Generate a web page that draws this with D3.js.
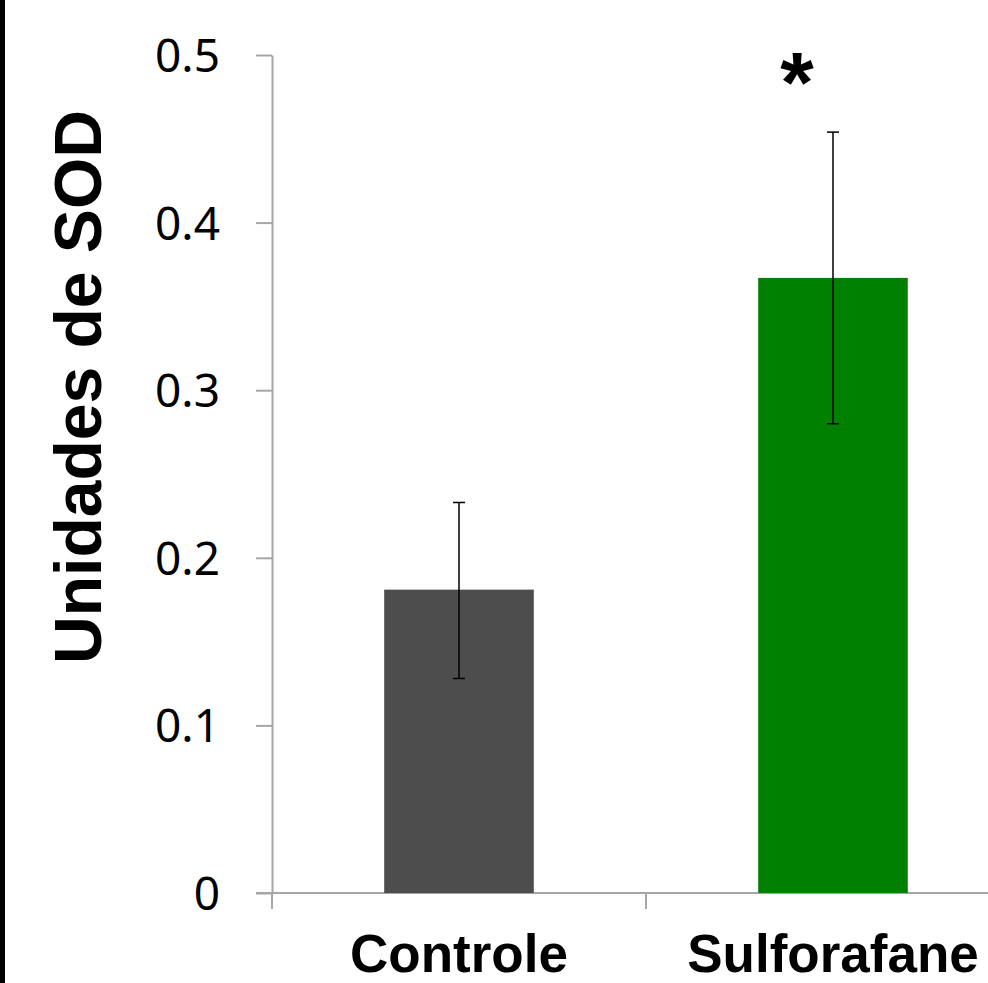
<!DOCTYPE html>
<html>
<head>
<meta charset="utf-8">
<script src="https://cdn.jsdelivr.net/npm/d3@7"></script>
<style>
  body { margin: 0; background: #fff; }
  svg { display: block; }
</style>
</head>
<body>
<div id="chart"></div>
<script>
const categories = ["Controle", "Sulforafane"];
const means = [0.181, 0.367];
const errUpper = [0.233, 0.454];
const errLower = [0.128, 0.280];
const barColors = ["#4d4d4d", "#008000"];
const yTicks = [0, 0.1, 0.2, 0.3, 0.4, 0.5];
const yTitle = "Unidades de SOD";
const marks = [{ cat: "Sulforafane", text: "*" }];

const width = 988, height = 983;
const axisColor = "#a6a6a6";

const svg = d3.select("#chart").append("svg")
  .attr("width", width)
  .attr("height", height);

svg.append("rect").attr("width", width).attr("height", height).attr("fill", "#fff");
// black strip on the left edge
svg.append("rect").attr("x", 0).attr("y", 0).attr("width", 5).attr("height", height).attr("fill", "#000");

const x = d3.scaleBand().domain(categories).range([272, 1020]).paddingInner(0).paddingOuter(0);
const y = d3.scaleLinear().domain([0, 0.5]).range([893, 55]);

// y axis
const yAxis = svg.append("g")
  .attr("transform", `translate(${x.range()[0]},0)`)
  .call(d3.axisLeft(y).tickValues(yTicks).tickSize(16).tickSizeOuter(0).tickPadding(36)
    .tickFormat(d => d === 0 ? "0" : d3.format(".1f")(d)));
yAxis.select(".domain").attr("stroke", axisColor).attr("stroke-width", 2);
yAxis.selectAll(".tick line").attr("stroke", axisColor).attr("stroke-width", 2);
yAxis.selectAll(".tick text")
  .attr("fill", "#000")
  .attr("font-family", "'Noto Sans', sans-serif")
  .attr("font-size", 46)
  .attr("dy", "0.36em");

// x axis baseline and category boundary ticks
svg.append("line")
  .attr("x1", x.range()[0] - 16).attr("x2", width)
  .attr("y1", y(0)).attr("y2", y(0))
  .attr("stroke", axisColor).attr("stroke-width", 2);
const bounds = categories.map(c => x(c)).concat([x.range()[1]]);
svg.append("g").selectAll("line").data(bounds).join("line")
  .attr("x1", d => d).attr("x2", d => d)
  .attr("y1", y(0)).attr("y2", y(0) + 16)
  .attr("stroke", axisColor).attr("stroke-width", 2);

// bars
const barW = x.bandwidth() * 0.4;
svg.append("g").selectAll("rect").data(categories).join("rect")
  .attr("x", d => x(d) + (x.bandwidth() - barW) / 2)
  .attr("width", barW)
  .attr("y", (d, i) => y(means[i]))
  .attr("height", (d, i) => y(0) - y(means[i]))
  .attr("fill", (d, i) => barColors[i]);

// error bars
const eb = svg.append("g").attr("stroke", "#000").attr("stroke-width", 1.5);
categories.forEach((c, i) => {
  const cx = x(c) + x.bandwidth() / 2;
  eb.append("line").attr("x1", cx).attr("x2", cx).attr("y1", y(errUpper[i])).attr("y2", y(errLower[i]));
  eb.append("line").attr("x1", cx - 6).attr("x2", cx + 6).attr("y1", y(errUpper[i])).attr("y2", y(errUpper[i]));
  eb.append("line").attr("x1", cx - 6).attr("x2", cx + 6).attr("y1", y(errLower[i])).attr("y2", y(errLower[i]));
});

// category labels
svg.append("g").selectAll("text").data(categories).join("text")
  .attr("x", d => x(d) + x.bandwidth() / 2)
  .attr("y", 972)
  .attr("text-anchor", "middle")
  .attr("font-family", "'Liberation Sans', Arial, sans-serif")
  .attr("font-weight", "bold")
  .attr("font-size", 53)
  .text(d => d);

// significance mark
svg.append("g").selectAll("text").data(marks).join("text")
  .attr("x", d => x(d.cat) + x.bandwidth() / 2 - 36)
  .attr("y", 112)
  .attr("text-anchor", "middle")
  .attr("font-family", "'Liberation Sans', Arial, sans-serif")
  .attr("font-weight", "bold")
  .attr("font-size", 86)
  .text(d => d.text);

// y title
svg.append("text")
  .attr("transform", `translate(101,387) rotate(-90)`)
  .attr("text-anchor", "middle")
  .attr("font-family", "'Liberation Sans', Arial, sans-serif")
  .attr("font-weight", "bold")
  .attr("font-size", 66)
  .text(yTitle);
</script>
</body>
</html>
